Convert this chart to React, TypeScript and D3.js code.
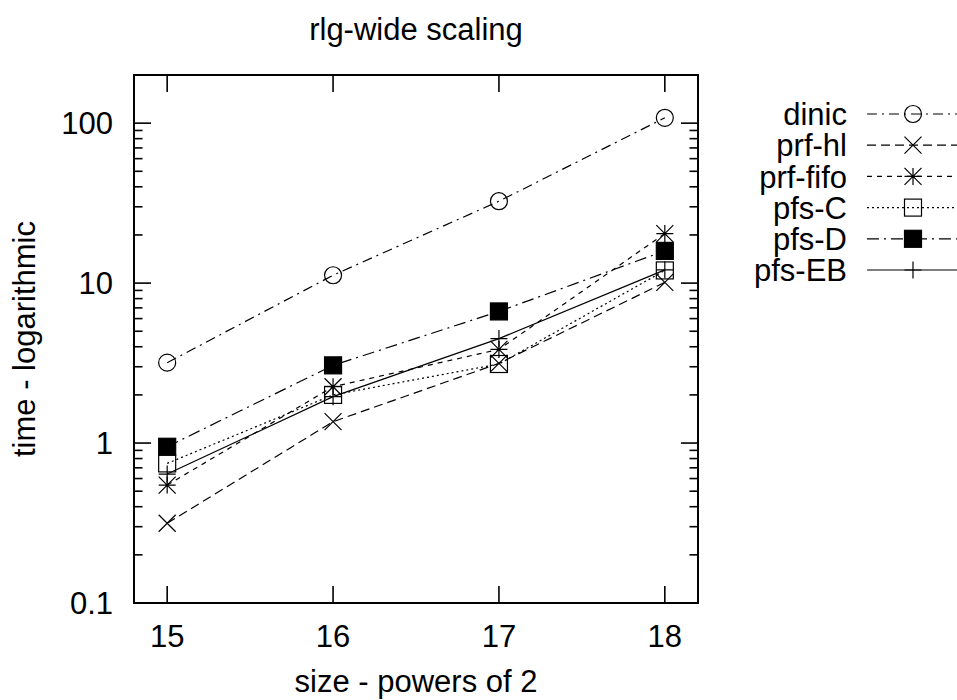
import React from "react";
import * as d3 from "d3";

const sizes = [15, 16, 17, 18];
const seriesNames = ["dinic", "prf-hl", "prf-fifo", "pfs-C", "pfs-D", "pfs-EB"];
const dinic = [3.18, 11.2, 32.5, 108];
const prfHl = [0.315, 1.36, 3.15, 10.1];
const prfFifo = [0.546, 2.25, 3.85, 20.4];
const pfsC = [0.746, 2.0, 3.12, 12.0];
const pfsD = [0.948, 3.06, 6.65, 15.9];
const pfsEB = [0.64, 1.95, 4.5, 12.1];
const yTickLabels = ["0.1", "1", "10", "100"];
const xTickValues = [15, 16, 17, 18];

const seriesValues = [dinic, prfHl, prfFifo, pfsC, pfsD, pfsEB];
const dashes = ["10,5,2,5", "9,5", "5,5", "2,3", "12,5,2,5", ""];
const markerTypes = ["circle", "x", "star", "square", "fsquare", "plus"];

const W = 957, H = 700;
const left = 134, right = 698, top = 75, bottom = 603;
const FONT = "'Liberation Sans', Arial, Helvetica, sans-serif";
const FS = 31;

function Marker({ type, x, y }: { type: string; x: number; y: number }) {
  const s = 8.5;
  const st = { stroke: "#000", strokeWidth: 1.2 };
  if (type === "circle") return <circle cx={x} cy={y} r={s} fill="none" {...st} />;
  if (type === "square") return <rect x={x - s} y={y - s} width={2 * s} height={2 * s} fill="none" {...st} />;
  if (type === "fsquare") return <rect x={x - s} y={y - s} width={2 * s} height={2 * s} fill="#000" {...st} />;
  if (type === "x")
    return (
      <path d={`M${x - s},${y - s}L${x + s},${y + s}M${x - s},${y + s}L${x + s},${y - s}`} fill="none" {...st} />
    );
  if (type === "plus")
    return <path d={`M${x - s},${y}L${x + s},${y}M${x},${y - s}L${x},${y + s}`} fill="none" {...st} />;
  return (
    <path
      d={`M${x - s},${y}L${x + s},${y}M${x},${y - s}L${x},${y + s}M${x - s},${y - s}L${x + s},${y + s}M${x - s},${y + s}L${x + s},${y - s}`}
      fill="none"
      {...st}
    />
  );
}

export default function App() {
  const x = d3.scaleLinear().domain([14.8, 18.2]).range([left, right]);
  const y = d3.scaleLog().domain([0.1, 200]).range([bottom, top]);
  const line = d3
    .line<number>()
    .x((_, i) => x(sizes[i]))
    .y((v) => y(v));

  const majors = yTickLabels.map((t) => +t);
  const minors: number[] = [];
  [0.1, 1, 10, 100].forEach((dec) => {
    for (let k = 2; k <= 9; k++) {
      const v = dec * k;
      if (v <= 200) minors.push(v);
    }
  });

  const legendY0 = 114;
  const legendDy = 31.2;

  return (
    <svg width={W} height={H} style={{ position: "absolute", left: 0, top: 0, background: "#fff" }}>
      <rect x={0} y={0} width={W} height={H} fill="#fff" />
      {/* ticks */}
      <g stroke="#000" strokeWidth={1.6}>
        {majors.map((v) => (
          <g key={"M" + v}>
            <line x1={left} x2={left + 17} y1={y(v)} y2={y(v)} />
            <line x1={right} x2={right - 17} y1={y(v)} y2={y(v)} />
          </g>
        ))}
        {minors.map((v) => (
          <g key={"m" + v}>
            <line x1={left} x2={left + 8.5} y1={y(v)} y2={y(v)} />
            <line x1={right} x2={right - 8.5} y1={y(v)} y2={y(v)} />
          </g>
        ))}
        {xTickValues.map((v) => (
          <g key={"x" + v}>
            <line x1={x(v)} x2={x(v)} y1={bottom} y2={bottom - 17} />
            <line x1={x(v)} x2={x(v)} y1={top} y2={top + 17} />
          </g>
        ))}
      </g>
      <rect x={left} y={top} width={right - left} height={bottom - top} fill="none" stroke="#000" strokeWidth={2} />
      {/* tick labels */}
      <g fontFamily={FONT} fontSize={FS} fill="#000">
        {yTickLabels.map((t) => (
          <text key={t} x={113} y={y(+t)} dy="0.36em" textAnchor="end">
            {t}
          </text>
        ))}
        {xTickValues.map((v) => (
          <text key={v} x={x(v)} y={647} textAnchor="middle">
            {v}
          </text>
        ))}
        <text x={(left + right) / 2} y={40} textAnchor="middle">
          rlg-wide scaling
        </text>
        <text x={(left + right) / 2} y={692} textAnchor="middle">
          size - powers of 2
        </text>
        <text transform={`translate(35,${(top + bottom) / 2}) rotate(-90)`} textAnchor="middle">
          time - logarithmic
        </text>
      </g>
      {/* series */}
      {seriesValues.map((vals, si) => (
        <g key={si}>
          <path d={line(vals) || ""} fill="none" stroke="#000" strokeWidth={1.2} strokeDasharray={dashes[si]} />
          {vals.map((v, i) => (
            <Marker key={i} type={markerTypes[si]} x={x(sizes[i])} y={y(v)} />
          ))}
        </g>
      ))}
      {/* legend */}
      {seriesNames.map((name, si) => {
        const ly = legendY0 + si * legendDy;
        return (
          <g key={name}>
            <text x={847} y={ly} dy="0.36em" textAnchor="end" fontFamily={FONT} fontSize={FS}>
              {name}
            </text>
            <line x1={867} x2={958} y1={ly} y2={ly} stroke="#000" strokeWidth={1.2} strokeDasharray={dashes[si]} />
            <Marker type={markerTypes[si]} x={913} y={ly} />
          </g>
        );
      })}
    </svg>
  );
}
